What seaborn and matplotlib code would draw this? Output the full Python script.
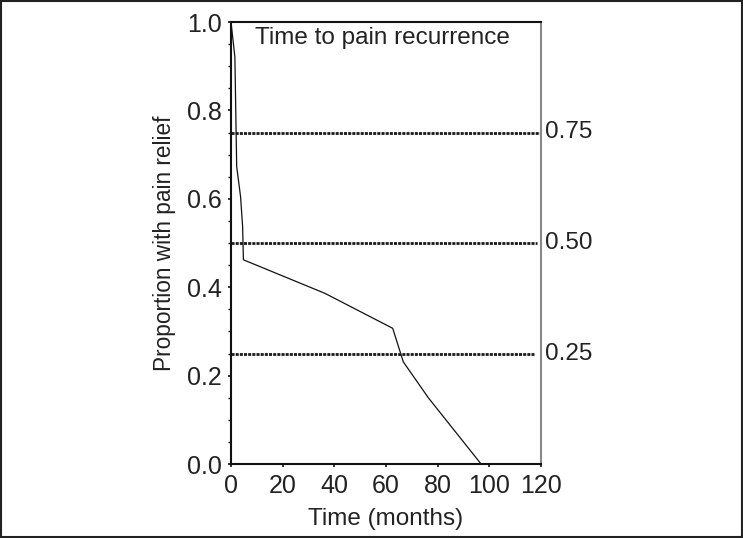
import matplotlib
matplotlib.use("Agg")
import matplotlib.pyplot as plt
import seaborn as sns
import pandas as pd
import numpy as np
from matplotlib.ticker import MultipleLocator
from matplotlib.patches import Rectangle

# ---- data ----
time_months = [0, 1.5, 2.2, 3.7, 4.5, 4.8, 36.4, 62.6, 66.7, 76.5, 96.8]
proportion = [1.0, 0.921, 0.673, 0.605, 0.537, 0.462, 0.386, 0.307, 0.231, 0.149, 0.0]

ref_levels = [0.75, 0.50, 0.25]
ref_labels = ["0.75", "0.50", "0.25"]
ref_line_end = [120, 118.6, 117.3]

x_ticks = [0, 20, 40, 60, 80, 100, 120]
y_ticks = [0.0, 0.2, 0.4, 0.6, 0.8, 1.0]

title_text = "Time to pain recurrence"
x_label = "Time (months)"
y_label = "Proportion with pain relief"

sns.set_theme(style="ticks")
plt.rcParams['font.family'] = ['Liberation Sans', 'DejaVu Sans']

fig = plt.figure(figsize=(7.43, 5.38), dpi=100)
ax = fig.add_axes([231/743, 1-464/538, 310/743, 442/538])

df = pd.DataFrame({"t": time_months, "s": proportion})
sns.lineplot(data=df, x="t", y="s", ax=ax, color="#111111", linewidth=0.9,
             estimator=None, sort=False)

for lev, lab, xe in zip(ref_levels, ref_labels, ref_line_end):
    ax.plot([0, xe], [lev, lev], color="#1a1a1a", linewidth=2.0,
            dashes=(1.1, 0.4), solid_capstyle="butt", dash_capstyle="butt")
    ax.text(121.5, lev, lab, ha="left", va="center", fontsize=17.5, color="#222222")

ax.set_xlim(0, 120)
ax.set_ylim(0, 1.0)
ax.set_xticks(x_ticks)
ax.set_xticklabels([str(v) for v in x_ticks])
ax.set_yticks(y_ticks)
ax.set_yticklabels([f"{v:.1f}" for v in y_ticks])
ax.yaxis.set_minor_locator(MultipleLocator(0.05))
ax.tick_params(axis="both", which="major", labelsize=18, length=2.5, width=1.2,
               colors="#111111", labelcolor="#222222", direction="out")
ax.tick_params(axis="y", which="major", pad=4)
ax.tick_params(axis="x", which="major", pad=5)
ax.tick_params(axis="y", which="minor", length=2, width=1.0, color="#111111")
ax.set_xlabel(x_label, fontsize=17.5, color="#222222", labelpad=7)
ax.set_ylabel(y_label, fontsize=16.3, color="#222222", labelpad=8)

ax.text(58.5, 0.963, title_text, ha="center", va="center", fontsize=17.5, color="#222222")

for side in ["left", "bottom", "top"]:
    ax.spines[side].set_color("#111111")
    ax.spines[side].set_linewidth(1.5)
ax.spines["right"].set_color("#888888")
ax.spines["right"].set_linewidth(1.5)
ax.spines["top"].set_visible(True)
ax.spines["right"].set_visible(True)

# outer border of the figure
fig.patches.append(Rectangle((0.001, 0.002), 0.997, 0.996, transform=fig.transFigure,
                             fill=False, edgecolor="#222222", linewidth=1.5))

fig.savefig("out.png", dpi=100)
